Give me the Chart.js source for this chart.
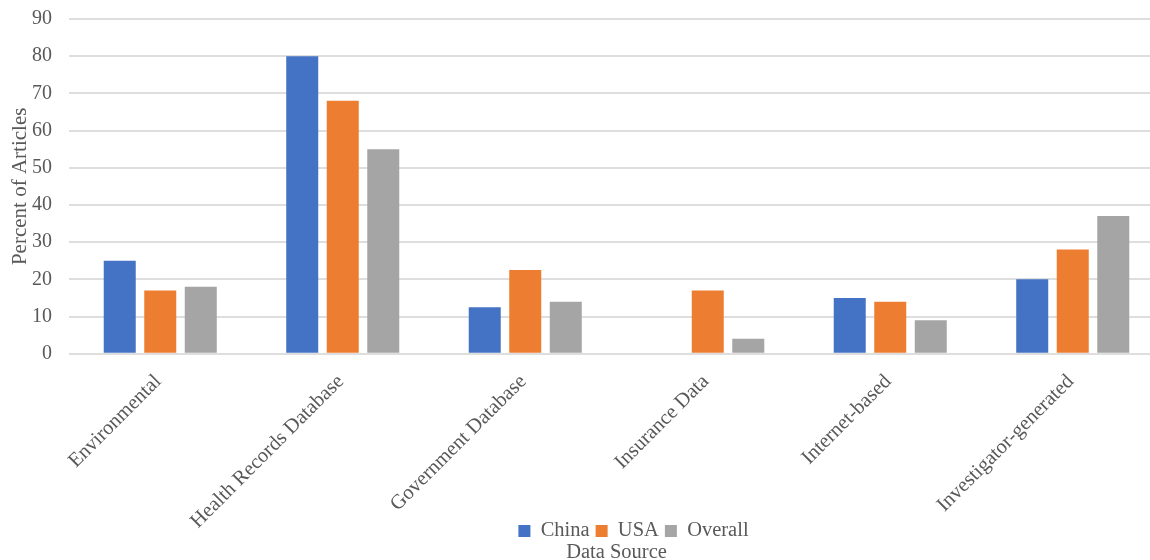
<!DOCTYPE html>
<html>
<head>
<meta charset="utf-8">
<script src="https://cdn.jsdelivr.net/npm/chart.js@4"></script>
<style>
  html, body { margin: 0; padding: 0; background: #fff; overflow: hidden; }
  /* a bit wider than the window: the original is cropped on the right */
  #wrap { width: 1164px; height: 560px; }
</style>
</head>
<body>
<div id="wrap"><canvas id="chart"></canvas></div>
<script>
// data
const categories = ['Environmental', 'Health Records Database', 'Government Database', 'Insurance Data', 'Internet-based', 'Investigator-generated'];
const china = [25, 80, 12.5, 0, 15, 20];
const usa = [17, 68, 22.5, 17, 14, 28];
const overall = [18, 55, 14, 4, 9, 37];
const yTicks = [0, 10, 20, 30, 40, 50, 60, 70, 80, 90];

const grey = '#595959';
const serif = '"Liberation Serif", "Times New Roman", serif';

// Excel lets the x labels hang down beside the legend, and sits the legend a bit right of centre
const excelTweaks = {
  id: 'excelTweaks',
  afterLayout(chart) {
    chart.scales.x._computeLabelArea = () => undefined;
    chart.legend.left += 17;
    chart.legend.right += 17;
  }
};

const ctx = document.getElementById('chart').getContext('2d');
new Chart(ctx, {
  type: 'bar',
  data: {
    labels: categories,
    datasets: [
      { label: 'China', data: china, backgroundColor: '#4472C4' },
      { label: 'USA', data: usa, backgroundColor: '#ED7D31' },
      { label: 'Overall', data: overall, backgroundColor: '#A5A5A5' }
    ]
  },
  plugins: [excelTweaks],
  options: {
    responsive: true,
    maintainAspectRatio: false,
    animation: false,
    devicePixelRatio: 1,
    layout: { padding: { top: 19, right: 0, left: 8, bottom: 0 } },
    datasets: {
      bar: { categoryPercentage: 0.666, barPercentage: 0.79 }
    },
    scales: {
      x: {
        grid: { display: false },
        border: { display: false },
        afterFit: axis => {
          axis.height = 161;
          axis.paddingLeft = 0;
          axis.paddingRight = 0;
        },
        ticks: {
          color: grey,
          font: { family: serif, size: 20.5 },
          minRotation: 45,
          maxRotation: 45,
          labelOffset: -2,
          padding: 8
        }
      },
      y: {
        min: 0,
        max: 90,
        afterBuildTicks: axis => { axis.ticks = yTicks.map(v => ({ value: v })); },
        afterFit: axis => {
          axis.width = 61;
          axis.paddingTop = 0;
          axis.paddingBottom = 0;
        },
        grid: { color: '#dedede', lineWidth: 2, drawTicks: false },
        border: { display: false },
        ticks: {
          color: grey,
          font: { family: serif, size: 20 },
          padding: 17
        },
        title: {
          display: true,
          text: 'Percent of Articles',
          color: grey,
          font: { family: serif, size: 21 },
          padding: { top: 0, bottom: 2 }
        }
      }
    },
    plugins: {
      legend: {
        position: 'bottom',
        fullSize: false,
        labels: {
          color: grey,
          font: { family: serif, size: 20.5 },
          boxWidth: 12,
          boxHeight: 12,
          padding: 6
        }
      },
      title: {
        display: true,
        position: 'bottom',
        fullSize: false,
        text: 'Data Source',
        color: grey,
        font: { family: serif, size: 20.5, weight: 'normal' },
        padding: { top: -10.5, bottom: -5.3 }
      },
      tooltip: { enabled: false }
    }
  }
});
</script>
</body>
</html>
